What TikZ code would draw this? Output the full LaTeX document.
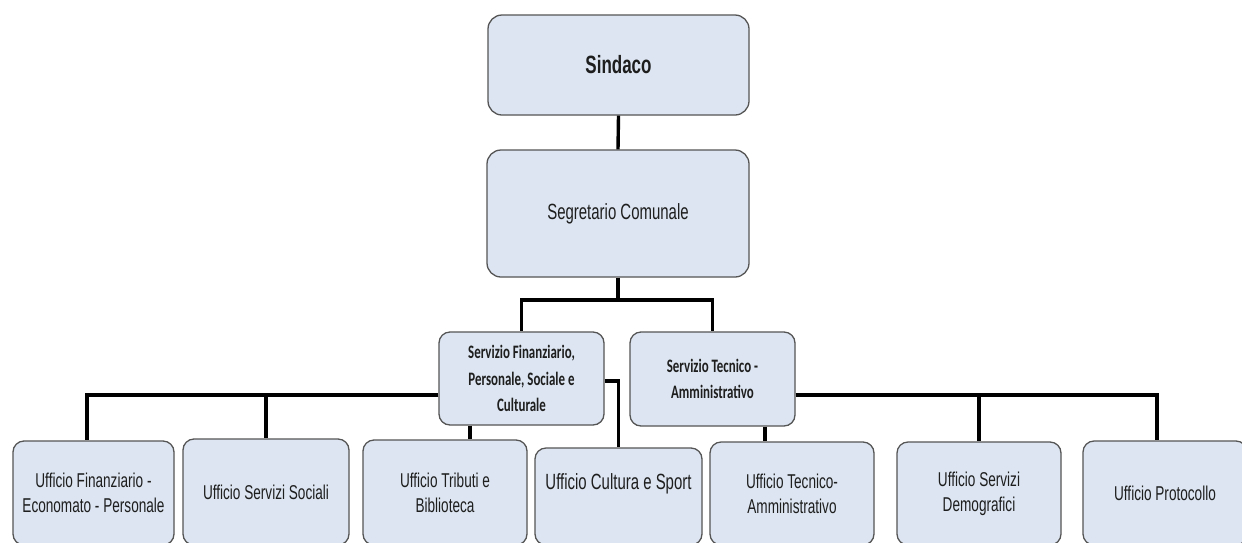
\documentclass[tikz,border=0pt]{standalone}
\usepackage{fontspec}
\newfontfamily\narrowsans[FakeStretch=0.68]{Liberation Sans}
\newfontfamily\narrowcal[FakeStretch=0.68]{Carlito}
\begin{document}
\begin{tikzpicture}[x=1pt,y=-1pt,
  box/.style={draw=borderColor,line width=1.3pt,fill=fillColor,rounded corners=11pt,
    inner sep=0pt,align=center,text=textColor,font=\narrowsans\fontsize{20}{25}\selectfont},
  topbox/.style={box,rounded corners=14pt,font=\narrowsans\fontsize{22}{27}\selectfont},
  svcbox/.style={box,font=\narrowcal\bfseries\fontsize{19}{26.5}\selectfont},
  officebox/.style={box,minimum width=164pt,minimum height=104pt},
  link/.style={draw=black,line width=3.4pt}]
\definecolor{fillColor}{RGB}{220,229,241}
\definecolor{borderColor}{RGB}{85,85,85}
\definecolor{textColor}{RGB}{30,30,30}
\path[use as bounding box,fill=white] (0,0) rectangle (1242,542);
\clip (0,0) rectangle (1242,542);

\node[topbox,minimum width=261pt,minimum height=100pt,font=\narrowsans\bfseries\fontsize{25}{30}\selectfont] (sindaco) at (618.5,65) {Sindaco};
\node[topbox,minimum width=262pt,minimum height=127pt] (segretario) at (618,213.5) {Segretario Comunale};

\node[svcbox,minimum width=165pt,minimum height=93pt] (servfin) at (521.5,378.5) {Servizio Finanziario,\\Personale, Sociale e\\Culturale};
\node[svcbox,minimum width=165pt,minimum height=94pt] (servtec) at (712.5,379) {Servizio Tecnico -\\Amministrativo};

\node[officebox,minimum width=161pt] (uffin) at (93.5,493) {Ufficio Finanziario -\\Economato - Personale};
\node[officebox,minimum width=166pt,minimum height=106pt] (uffsoc) at (266,492) {Ufficio Servizi Sociali};
\node[officebox,minimum height=105pt] (ufftrib) at (445,492.5) {Ufficio Tributi e\\Biblioteca};
\node[officebox,minimum width=167pt,minimum height=97pt,font=\narrowsans\fontsize{22}{27}\selectfont] (uffcult) at (618.5,496.5) {\raisebox{13pt}[\height][\depth]{Ufficio Cultura e Sport}};
\node[officebox,minimum height=103pt] (ufftec) at (792,493.5) {Ufficio Tecnico-\\Amministrativo};
\node[officebox,minimum height=103pt] (uffdemo) at (979,493.5) {Ufficio Servizi\\Demografici};
\node[officebox,minimum height=104pt] (uffprot) at (1165,493) {Ufficio Protocollo};

\coordinate (bus) at (618,300);

\draw[link] (sindaco.south) -- (segretario.north);
\draw[link] (segretario.south) -- (bus);
\draw[link] (bus) -| (servfin.north);
\draw[link] (bus) -| (servtec.north);

\draw[link] ([yshift=-16.5pt]servfin.west) -| ([xshift=-6.5pt]uffin.north);
\draw[link] ([yshift=-16.5pt]servfin.west) -| (uffsoc.north);
\draw[link] ([xshift=-51.5pt]servfin.south) -- ([xshift=25pt]ufftrib.north);
\draw[link] ([yshift=-2.5pt]servfin.east) -| (uffcult.north);

\draw[link] ([xshift=52.5pt]servtec.south) -- ([xshift=-27pt]ufftec.north);
\draw[link] ([yshift=-16pt]servtec.east) -| (uffdemo.north);
\draw[link] ([yshift=-16pt]servtec.east) -| ([xshift=-8pt]uffprot.north);
\end{tikzpicture}
\end{document}
